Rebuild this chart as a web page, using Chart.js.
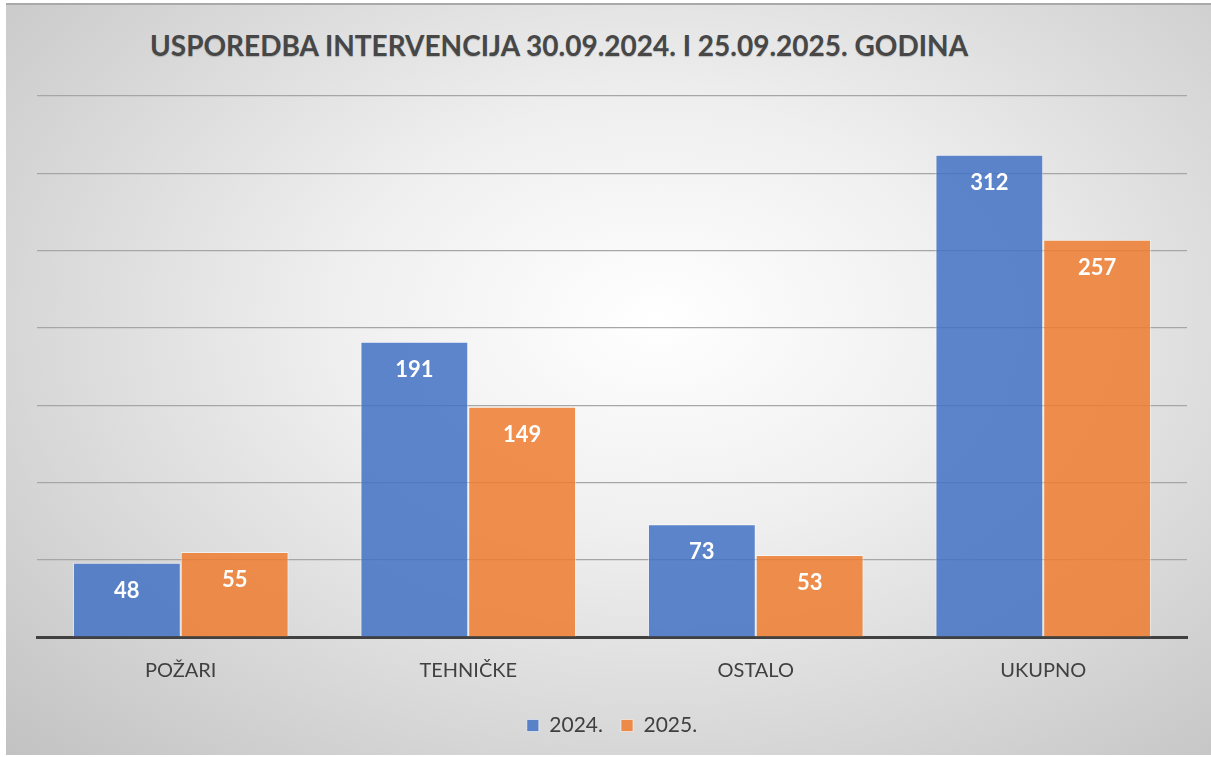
<!DOCTYPE html>
<html>
<head>
<meta charset="utf-8">
<script src="https://cdn.jsdelivr.net/npm/chart.js@4"></script>
<style>
  html, body { margin: 0; padding: 0; background: #fff; }
  #box {
    position: absolute; left: 6px; top: 3px; width: 1205px; height: 752px;
    background: radial-gradient(ellipse farthest-corner at 54% 42%, #ffffff 0%, #efefef 35%, #c2c2c2 100%);
    border-top: 2px solid #a9a9a9;
    box-sizing: border-box;
  }
  #title {
    position: absolute; left: 144px; top: 23px;
    font: bold 28px Lato, sans-serif; color: #474747;
    white-space: nowrap;
    text-shadow: 0 1px 1px rgba(0,0,0,0.2);
  }
  #wrap { position: absolute; left: 0; top: 0; width: 1205px; height: 750px; }
</style>
</head>
<body>
<div id="box">
  <div id="title">USPOREDBA INTERVENCIJA 30.09.2024. I 25.09.2025. GODINA</div>
  <div id="wrap"><canvas id="chart"></canvas></div>
</div>
<script>
const categories = ["POŽARI", "TEHNIČKE", "OSTALO", "UKUPNO"];
const series2024 = [48, 191, 73, 312];
const series2025 = [55, 149, 53, 257];
const seriesLabels = ["2024.", "2025."];

// value labels inside the top of each bar
const barValues = {
  id: 'barValues',
  afterDatasetsDraw(chart) {
    const c = chart.ctx;
    c.save();
    c.font = 'bold 22px Lato, sans-serif';
    c.fillStyle = '#ffffff';
    c.textAlign = 'center';
    c.textBaseline = 'middle';
    chart.data.datasets.forEach((ds, i) => {
      chart.getDatasetMeta(i).data.forEach((bar, j) => {
        c.fillText(ds.data[j], bar.x, bar.y + 28);
      });
    });
    c.restore();
  }
};

new Chart(document.getElementById('chart'), {
  type: 'bar',
  data: {
    labels: categories,
    datasets: [
      { label: seriesLabels[0], data: series2024,
        backgroundColor: 'rgba(68,114,196,0.86)', borderColor: 'rgba(255,255,255,0.55)', borderWidth: 1 },
      { label: seriesLabels[1], data: series2025,
        backgroundColor: 'rgba(237,125,49,0.86)', borderColor: 'rgba(255,255,255,0.55)', borderWidth: 1 }
    ]
  },
  options: {
    responsive: true,
    maintainAspectRatio: false,
    animation: false,
    datasets: { bar: { categoryPercentage: 0.75, barPercentage: 1.0 } },
    layout: { padding: { left: 31, right: 24, top: 91, bottom: 9 } },
    scales: {
      x: {
        grid: { display: false },
        border: { color: '#404040', width: 3 },
        ticks: { color: '#404040', font: { family: 'Lato', size: 20 }, padding: 14 }
      },
      y: {
        min: 0, max: 350,
        ticks: { display: false, stepSize: 50 },
        grid: { color: '#a6a6a6', lineWidth: 1.2, drawTicks: false },
        border: { display: false }
      }
    },
    plugins: {
      tooltip: { enabled: false },
      legend: {
        position: 'bottom',
        labels: { color: '#404040', font: { family: 'Lato', size: 21 }, boxWidth: 12, boxHeight: 12, padding: 18 }
      }
    }
  },
  plugins: [barValues]
});
</script>
</body>
</html>
